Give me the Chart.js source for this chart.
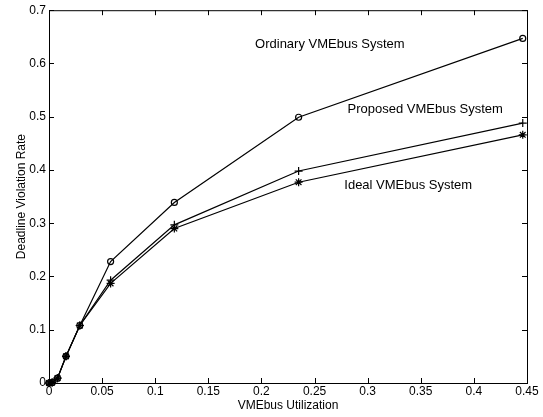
<!DOCTYPE html>
<html>
<head>
<meta charset="utf-8">
<script src="https://cdn.jsdelivr.net/npm/chart.js@4.4.0/dist/chart.umd.min.js"></script>
<style>
  html, body { margin: 0; padding: 0; background: #fff; }
  #wrap { width: 543px; height: 417px; }
</style>
</head>
<body>
<div id="wrap"><canvas id="vmeChart"></canvas></div>
<script>
// values
const utilization = [0, 0.003, 0.008, 0.016, 0.029, 0.058, 0.118, 0.235, 0.446];
const ordinaryRate = [0, 0.001, 0.009, 0.05, 0.108, 0.228, 0.339, 0.499, 0.647];
const proposedRate = [0, 0.001, 0.009, 0.05, 0.108, 0.193, 0.297, 0.398, 0.488];
const idealRate    = [0, 0.001, 0.009, 0.05, 0.108, 0.187, 0.290, 0.377, 0.466];

const xTickValues = [0, 0.05, 0.1, 0.15, 0.2, 0.25, 0.3, 0.35, 0.4, 0.45];
const xTickLabels = ['0', '0.05', '0.1', '0.15', '0.2', '0.25', '0.3', '0.35', '0.4', '0.45'];
const yTickValues = [0, 0.1, 0.2, 0.3, 0.4, 0.5, 0.6, 0.7];
const yTickLabels = ['0', '0.1', '0.2', '0.3', '0.4', '0.5', '0.6', '0.7'];

const seriesNames = ['Ordinary VMEbus System', 'Proposed VMEbus System', 'Ideal VMEbus System'];
const nameX = [0.194, 0.281, 0.278];
const nameY = [0.636, 0.514, 0.371];

const FONT = "'Liberation Sans', Arial, Helvetica, sans-serif";
Chart.defaults.color = '#000';
Chart.defaults.font.family = FONT;
Chart.defaults.font.size = 12;

function toPoints(ys) {
    return utilization.map((x, i) => ({ x: x, y: ys[i] }));
}

// frame, inward tick marks and the in-plot series names
const frameTicks = {
    id: 'frameTicks',
    afterDatasetsDraw(chart) {
        const ctx = chart.ctx;
        const a = chart.chartArea;
        const xs = chart.scales.x, ys = chart.scales.y;
        const len = 5;
        ctx.save();
        ctx.strokeStyle = '#000';
        ctx.lineWidth = 1;
        ctx.strokeRect(a.left + 0.5, a.top + 0.5, a.right - a.left, a.bottom - a.top);
        ctx.beginPath();
        xTickValues.forEach(v => {
            const px = Math.round(xs.getPixelForValue(v)) + 0.5;
            ctx.moveTo(px, a.bottom); ctx.lineTo(px, a.bottom - len);
            ctx.moveTo(px, a.top); ctx.lineTo(px, a.top + len);
        });
        yTickValues.forEach(v => {
            const py = Math.round(ys.getPixelForValue(v)) + 0.5;
            ctx.moveTo(a.left, py); ctx.lineTo(a.left + len, py);
            ctx.moveTo(a.right, py); ctx.lineTo(a.right - len, py);
        });
        ctx.stroke();

        ctx.fillStyle = '#000';
        ctx.font = '13px ' + FONT;
        ctx.textAlign = 'left';
        ctx.textBaseline = 'middle';
        seriesNames.forEach((t, i) => {
            ctx.fillText(t, xs.getPixelForValue(nameX[i]), ys.getPixelForValue(nameY[i]));
        });
        ctx.restore();
    }
};

const lineStyle = {
    borderColor: '#000',
    borderWidth: 1.2,
    pointBorderColor: '#000',
    pointBorderWidth: 1.2,
    pointBackgroundColor: 'rgba(0,0,0,0)',
    tension: 0,
    clip: false
};

new Chart(document.getElementById('vmeChart'), {
    type: 'line',
    data: {
        datasets: [
            Object.assign({ label: seriesNames[0], data: toPoints(ordinaryRate), pointStyle: 'circle', pointRadius: 3 }, lineStyle),
            Object.assign({ label: seriesNames[1], data: toPoints(proposedRate), pointStyle: 'cross', pointRadius: 4 }, lineStyle),
            Object.assign({ label: seriesNames[2], data: toPoints(idealRate), pointStyle: 'star', pointRadius: 4 }, lineStyle)
        ]
    },
    options: {
        responsive: true,
        maintainAspectRatio: false,
        animation: false,
        layout: { padding: { left: 0, top: 7, right: 16, bottom: 0 } },
        plugins: {
            legend: { display: false },
            tooltip: { enabled: false }
        },
        scales: {
            x: {
                type: 'linear',
                min: 0,
                max: 0.45,
                afterBuildTicks(scale) { scale.ticks = xTickValues.map(v => ({ value: v })); },
                afterFit(scale) { scale.height = 34; },
                grid: { display: false, drawTicks: false },
                border: { display: false },
                ticks: {
                    padding: 1,
                    maxRotation: 0,
                    autoSkip: false,
                    callback: (v) => xTickLabels[xTickValues.indexOf(v)],
                    font: { size: 12 }
                },
                title: {
                    display: true,
                    text: 'VMEbus Utilization',
                    padding: { top: 0, bottom: 4 },
                    font: { size: 12 }
                }
            },
            y: {
                type: 'linear',
                min: 0,
                max: 0.7,
                afterBuildTicks(scale) { scale.ticks = yTickValues.map(v => ({ value: v })); },
                afterFit(scale) { scale.width = 49; },
                grid: { display: false, drawTicks: false },
                border: { display: false },
                ticks: {
                    padding: 3,
                    autoSkip: false,
                    callback: (v) => yTickLabels[yTickValues.indexOf(v)],
                    font: { size: 12 }
                },
                title: {
                    display: true,
                    text: 'Deadline Violation Rate',
                    padding: { top: 14, bottom: 0 },
                    font: { size: 12 }
                }
            }
        }
    },
    plugins: [frameTicks]
});
</script>
</body>
</html>
